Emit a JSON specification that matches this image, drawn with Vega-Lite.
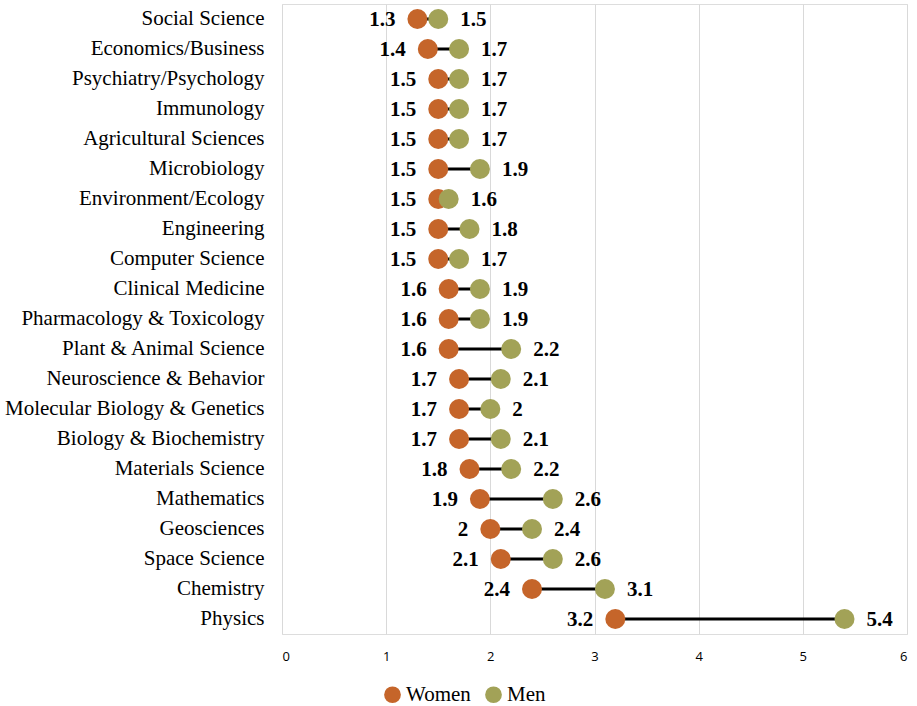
{
  "$schema": "https://vega.github.io/schema/vega-lite/v6.json",
  "width": 625,
  "height": 630,
  "autosize": {"type": "none"},
  "padding": {"left": 282, "top": 4, "right": 10, "bottom": 72},
  "background": "white",
  "data": {
    "values": [
      {"field": "Social Science", "Women": 1.3, "Men": 1.5},
      {"field": "Economics/Business", "Women": 1.4, "Men": 1.7},
      {"field": "Psychiatry/Psychology", "Women": 1.5, "Men": 1.7},
      {"field": "Immunology", "Women": 1.5, "Men": 1.7},
      {"field": "Agricultural Sciences", "Women": 1.5, "Men": 1.7},
      {"field": "Microbiology", "Women": 1.5, "Men": 1.9},
      {"field": "Environment/Ecology", "Women": 1.5, "Men": 1.6},
      {"field": "Engineering", "Women": 1.5, "Men": 1.8},
      {"field": "Computer Science", "Women": 1.5, "Men": 1.7},
      {"field": "Clinical Medicine", "Women": 1.6, "Men": 1.9},
      {"field": "Pharmacology & Toxicology", "Women": 1.6, "Men": 1.9},
      {"field": "Plant & Animal Science", "Women": 1.6, "Men": 2.2},
      {"field": "Neuroscience & Behavior", "Women": 1.7, "Men": 2.1},
      {"field": "Molecular Biology & Genetics", "Women": 1.7, "Men": 2},
      {"field": "Biology & Biochemistry", "Women": 1.7, "Men": 2.1},
      {"field": "Materials Science", "Women": 1.8, "Men": 2.2},
      {"field": "Mathematics", "Women": 1.9, "Men": 2.6},
      {"field": "Geosciences", "Women": 2, "Men": 2.4},
      {"field": "Space Science", "Women": 2.1, "Men": 2.6},
      {"field": "Chemistry", "Women": 2.4, "Men": 3.1},
      {"field": "Physics", "Women": 3.2, "Men": 5.4}
    ]
  },
  "encoding": {
    "y": {
      "field": "field",
      "type": "nominal",
      "sort": null,
      "title": null,
      "scale": {"paddingInner": 0, "paddingOuter": 0},
      "axis": {
        "domain": false,
        "ticks": false,
        "grid": false,
        "labelFont": "Liberation Serif, Times New Roman, serif",
        "labelFontSize": 21,
        "labelColor": "#000000",
        "labelPadding": 18,
        "labelLimit": 400
      }
    }
  },
  "layer": [
    {
      "mark": {"type": "rule", "color": "#000000", "strokeWidth": 3},
      "encoding": {
        "x": {
          "field": "Women",
          "type": "quantitative",
          "scale": {"domain": [0, 6], "nice": false},
          "title": null,
          "axis": {
            "values": [0, 1, 2, 3, 4, 5, 6],
            "format": "d",
            "domain": false,
            "ticks": false,
            "grid": true,
            "gridColor": "#d9d9d9",
            "gridWidth": 1,
            "labelFont": "Open Sans",
            "labelFontSize": 13,
            "labelColor": "#000000",
            "labelPadding": 16
          }
        },
        "x2": {"field": "Men"}
      }
    },
    {
      "transform": [{"fold": ["Women", "Men"], "as": ["gender", "value"]}],
      "layer": [
        {
          "mark": {"type": "point", "filled": true, "size": 400, "opacity": 1, "shape": "circle"},
          "encoding": {
            "x": {"field": "value", "type": "quantitative"},
            "color": {
              "field": "gender",
              "type": "nominal",
              "scale": {"domain": ["Women", "Men"], "range": ["#C5652A", "#A2A257"]},
              "legend": {
                "title": null,
                "orient": "none",
                "direction": "horizontal",
                "legendX": 100,
                "legendY": 680,
                "symbolType": "circle",
                "symbolSize": 280,
                "symbolOpacity": 1,
                "labelFont": "Liberation Serif, Times New Roman, serif",
                "labelFontSize": 21,
                "labelColor": "#000000",
                "labelOffset": 3,
                "columnPadding": 12
              }
            }
          }
        },
        {
          "transform": [{"filter": "datum.gender === 'Women'"}],
          "mark": {"type": "text", "align": "right", "baseline": "middle", "dx": -22, "dy": 1, "font": "Liberation Serif, Times New Roman, serif", "fontSize": 21, "fontWeight": "bold", "color": "#000000"},
          "encoding": {
            "x": {"field": "value", "type": "quantitative"},
            "text": {"field": "value", "type": "quantitative"}
          }
        },
        {
          "transform": [{"filter": "datum.gender === 'Men'"}],
          "mark": {"type": "text", "align": "left", "baseline": "middle", "dx": 22, "dy": 1, "font": "Liberation Serif, Times New Roman, serif", "fontSize": 21, "fontWeight": "bold", "color": "#000000"},
          "encoding": {
            "x": {"field": "value", "type": "quantitative"},
            "text": {"field": "value", "type": "quantitative"}
          }
        }
      ]
    }
  ]
}
